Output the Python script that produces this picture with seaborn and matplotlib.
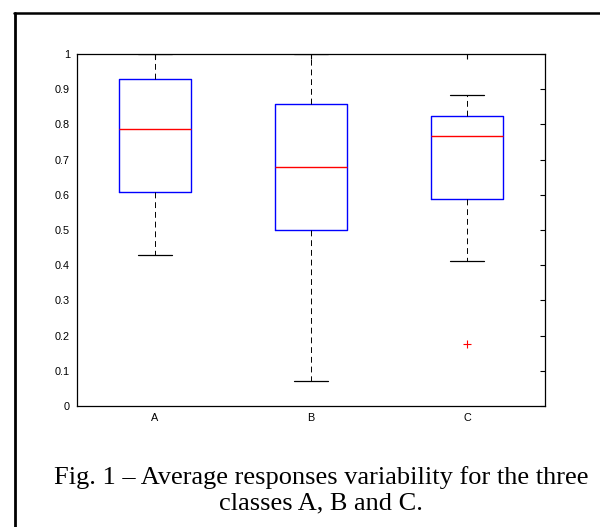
import seaborn as sns
import matplotlib.pyplot as plt
from matplotlib.lines import Line2D

# Five-number summaries
classes = ['A', 'B', 'C']
whisker_low = [0.43, 0.072, 0.412]
q1 = [0.607, 0.50, 0.588]
median = [0.787, 0.679, 0.766]
q3 = [0.930, 0.858, 0.824]
whisker_high = [1.0, 1.0, 0.884]
outliers = [[], [], [0.176]]

caption_1 = 'Fig. 1 \u2013 Average responses variability for the three'
caption_2 = 'classes A, B and C.'

sns.set_style('white')
plt.rcParams['font.family'] = ['Liberation Sans', 'DejaVu Sans']
plt.rcParams['text.color'] = 'black'

W, H = 600, 527
fig = plt.figure(figsize=(W / 100, H / 100), dpi=100)
ax = fig.add_axes([77 / W, 1 - 406 / H, 468 / W, 352 / H])

# Build the stats table that bxp needs
stats = []
for i, name in enumerate(classes):
    stats.append({'label': name, 'whislo': whisker_low[i], 'q1': q1[i], 'med': median[i],
                  'q3': q3[i], 'whishi': whisker_high[i], 'fliers': outliers[i]})

ax.bxp(stats, positions=[1, 2, 3], widths=0.46, capwidths=0.22,
       boxprops=dict(color='blue', linewidth=1.0),
       medianprops=dict(color='red', linewidth=1.0),
       whiskerprops=dict(color='black', linewidth=0.7, linestyle=(0, (6, 4))),
       capprops=dict(color='black', linewidth=0.9),
       flierprops=dict(marker='+', markeredgecolor='red', markersize=6, markeredgewidth=0.8))

ax.set_xlim(0.5, 3.5)
ax.set_ylim(0, 1)
ax.set_yticks([i / 10 for i in range(11)])
ax.set_yticklabels(['0', '0.1', '0.2', '0.3', '0.4', '0.5', '0.6', '0.7', '0.8', '0.9', '1'])
ax.tick_params(direction='in', length=3.5, width=0.8, labelsize=7.8, colors='black',
               top=True, right=True, pad=5)
for s in ax.spines.values():
    s.set_color('black')
    s.set_linewidth(0.9)

# Outer frame (left and top edges only)
fig.add_artist(Line2D([15 / W, 15 / W], [0, 1 - 13 / H], transform=fig.transFigure, color='black', lw=2))
fig.add_artist(Line2D([14 / W, 1.0], [1 - 13 / H, 1 - 13 / H], transform=fig.transFigure, color='black', lw=1.8))

# Caption
serif = ['Liberation Serif', 'DejaVu Serif']
fig.text(321 / W, 1 - 484 / H, caption_1, ha='center', va='baseline', fontsize=19,
         family=serif, color='black')
fig.text(321 / W, 1 - 509 / H, caption_2, ha='center', va='baseline', fontsize=19,
         family=serif, color='black')

fig.savefig('out.png', dpi=100)
